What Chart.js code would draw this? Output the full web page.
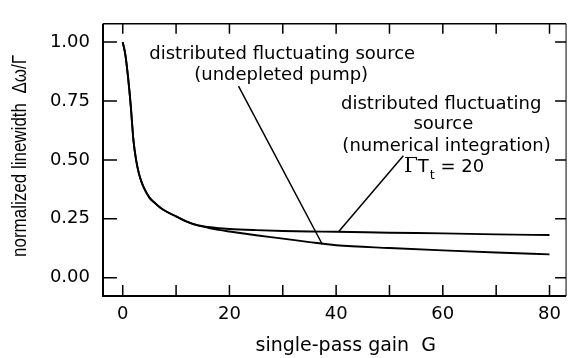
<!DOCTYPE html>
<html>
<head>
<meta charset="utf-8">
<script src="https://cdn.jsdelivr.net/npm/chart.js@4.4.1/dist/chart.umd.min.js"></script>
<style>
  html, body { margin: 0; padding: 0; background: #fff; }
  #wrap { width: 569px; height: 358px; }
</style>
</head>
<body>
<div id="wrap"><canvas id="chart" width="569" height="358"></canvas></div>
<script>
// single-pass gain G
const gain = [0, 0.5, 1, 1.5, 2, 2.5, 3, 3.5, 4, 5, 6, 7, 8, 10, 12, 14, 16, 18, 20, 25, 30, 35, 40, 50, 60, 70, 80];
// distributed fluctuating source, undepleted pump
const undepleted = [1.00, 0.945, 0.85, 0.73, 0.585, 0.50, 0.445, 0.408, 0.38, 0.34, 0.318, 0.298, 0.283, 0.26, 0.238, 0.222,
    0.212, 0.203, 0.196, 0.180, 0.166, 0.151, 0.138, 0.126, 0.116, 0.107, 0.099];
// distributed fluctuating source, numerical integration (GT_t = 20)
const numerical = [1.00, 0.945, 0.85, 0.73, 0.585, 0.50, 0.445, 0.408, 0.38, 0.34, 0.318, 0.298, 0.283, 0.26, 0.238, 0.223,
    0.215, 0.210, 0.207, 0.202, 0.198, 0.196, 0.195, 0.191, 0.188, 0.184, 0.181];
const xTickValues = [0, 10, 20, 30, 40, 50, 60, 70, 80];
const yTickValues = [0, 0.25, 0.5, 0.75, 1];

const SANS = "'DejaVu Sans', sans-serif";

// text notes and pointer lines, in data units
const notes = [
    {text: 'distributed fluctuating source', x: 29.9, y: 0.947},
    {text: '(undepleted pump)', x: 29.7, y: 0.857},
    {text: 'distributed fluctuating', x: 59.7, y: 0.735},
    {text: 'source', x: 60.1, y: 0.653},
    {text: '(numerical integration)', x: 60.7, y: 0.559}
];
const pointers = [
    [[21.7, 0.813], [37.4, 0.142]],
    [[40.5, 0.196], [52.6, 0.518]]
];

function toPoints(ys) {
    return gain.map((g, i) => ({x: g, y: ys[i]}));
}

const framePlugin = {
    id: 'frame',
    afterDatasetsDraw(chart) {
        const {ctx, chartArea: a, scales: {x, y}} = chart;
        ctx.save();
        ctx.strokeStyle = '#000';
        ctx.lineCap = 'butt';

        // box
        ctx.lineWidth = 2;
        ctx.beginPath();
        ctx.moveTo(a.left, a.top);
        ctx.lineTo(a.left, a.bottom);
        ctx.lineTo(a.right, a.bottom);
        ctx.stroke();
        ctx.lineWidth = 1.5;
        ctx.beginPath();
        ctx.moveTo(a.left, a.top);
        ctx.lineTo(a.right, a.top);
        ctx.stroke();
        ctx.lineWidth = 1;
        ctx.beginPath();
        ctx.moveTo(a.right, a.top);
        ctx.lineTo(a.right, a.bottom);
        ctx.stroke();

        // inward ticks
        ctx.lineWidth = 1.5;
        ctx.beginPath();
        x.ticks.forEach(t => {
            const px = x.getPixelForValue(t.value);
            ctx.moveTo(px, a.bottom);
            ctx.lineTo(px, a.bottom - 11);
            ctx.moveTo(px, a.top);
            ctx.lineTo(px, a.top + 10);
        });
        y.ticks.forEach(t => {
            const py = y.getPixelForValue(t.value);
            ctx.moveTo(a.left, py);
            ctx.lineTo(a.left + 14, py);
            ctx.moveTo(a.right, py);
            ctx.lineTo(a.right - 11, py);
        });
        ctx.stroke();

        // pointer lines
        ctx.lineWidth = 1.5;
        ctx.beginPath();
        pointers.forEach(([p, q]) => {
            ctx.moveTo(x.getPixelForValue(p[0]), y.getPixelForValue(p[1]));
            ctx.lineTo(x.getPixelForValue(q[0]), y.getPixelForValue(q[1]));
        });
        ctx.stroke();

        // notes
        ctx.fillStyle = '#000';
        ctx.textBaseline = 'middle';
        ctx.textAlign = 'center';
        ctx.font = '18px ' + SANS;
        notes.forEach(n => {
            ctx.fillText(n.text, x.getPixelForValue(n.x), y.getPixelForValue(n.y));
        });

        // Gamma T_t = 20
        let cx = x.getPixelForValue(52.7);
        const cy = y.getPixelForValue(0.469);
        ctx.textAlign = 'left';
        ctx.font = "20px 'DejaVu Serif', serif";
        ctx.fillText('\u0393', cx, cy);
        cx += ctx.measureText('\u0393').width;
        ctx.font = '18px ' + SANS;
        ctx.fillText('T', cx, cy);
        cx += ctx.measureText('T').width + 1;
        ctx.font = '13px ' + SANS;
        ctx.fillText('t', cx, cy + 8);
        cx += ctx.measureText('t').width;
        ctx.font = '18px ' + SANS;
        ctx.fillText(' = 20', cx, cy);

        // axis titles
        ctx.textAlign = 'center';
        ctx.font = '19px ' + SANS;
        ctx.fillText('single-pass gain  G', x.getPixelForValue(41.8), a.bottom + 50);

        ctx.translate(20, (a.top + a.bottom) / 2 - 4);
        ctx.rotate(-Math.PI / 2);
        ctx.scale(1, 1.22);
        ctx.font = "17px 'Liberation Sans', Arial, sans-serif";
        ctx.fillText('normalized linewidth  \u0394\u03c9/\u0393', 0, 0);
        ctx.restore();
    }
};

new Chart(document.getElementById('chart'), {
    type: 'line',
    data: {
        datasets: [
            {
                label: 'undepleted pump',
                data: toPoints(undepleted),
                borderColor: '#000',
                borderWidth: 1.9,
                pointRadius: 0,
                fill: false,
                cubicInterpolationMode: 'monotone'
            },
            {
                label: 'numerical integration',
                data: toPoints(numerical),
                borderColor: '#000',
                borderWidth: 1.9,
                pointRadius: 0,
                fill: false,
                cubicInterpolationMode: 'monotone'
            }
        ]
    },
    options: {
        responsive: false,
        animation: false,
        devicePixelRatio: 1,
        layout: {padding: {top: 13, right: 1, left: 0, bottom: 0}},
        plugins: {
            legend: {display: false},
            tooltip: {enabled: false}
        },
        scales: {
            x: {
                type: 'linear',
                min: -3.7,
                max: 83.1,
                afterBuildTicks: s => { s.ticks = xTickValues.map(value => ({value})); },
                afterFit: s => { s.height = 62; },
                grid: {display: false, drawTicks: false},
                border: {display: false},
                ticks: {
                    color: '#000',
                    padding: 8,
                    maxRotation: 0,
                    font: {family: SANS, size: 18},
                    callback: v => (v % 20 === 0 ? String(v) : '')
                }
            },
            y: {
                type: 'linear',
                min: -0.0776,
                max: 1.0776,
                afterBuildTicks: s => { s.ticks = yTickValues.map(value => ({value})); },
                afterFit: s => { s.width = 103; },
                grid: {display: false, drawTicks: false},
                border: {display: false},
                ticks: {
                    color: '#000',
                    padding: 13,
                    font: {family: SANS, size: 18},
                    callback: v => v.toFixed(2)
                }
            }
        }
    },
    plugins: [framePlugin]
});
</script>
</body>
</html>
